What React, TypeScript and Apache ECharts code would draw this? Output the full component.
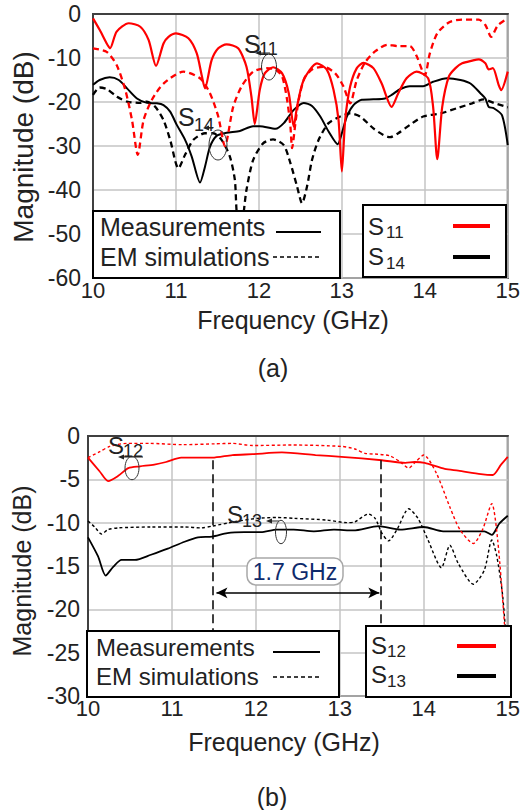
import React, { useEffect, useRef } from "react";
import * as echarts from "echarts";

// ---------- data (frequency GHz, magnitude dB) ----------
const s11Meas: number[][] = [
  [10.0, -1.0], [10.08, -3.6], [10.165, -6.7], [10.205, -7.8], [10.285, -4.0], [10.43, -2.1], [10.57, -2.9],
  [10.67, -5.9], [10.76, -11.8], [10.85, -6.7], [10.91, -5.2], [11.0, -4.4], [11.15, -5.5], [11.25, -8.9],
  [11.31, -13.9], [11.35, -16.9], [11.43, -10.5], [11.51, -7.8], [11.61, -6.9], [11.75, -7.8], [11.85, -12.0],
  [11.91, -18.8], [11.95, -25.0], [12.01, -17.3], [12.07, -13.5], [12.17, -12.1], [12.28, -13.5], [12.36, -18.0],
  [12.42, -25.6], [12.46, -21.0], [12.54, -15.0], [12.7, -11.2], [12.82, -12.7], [12.9, -17.3], [12.96, -24.1],
  [13.0, -35.8], [13.04, -24.1], [13.1, -16.5], [13.18, -12.3], [13.26, -11.1], [13.38, -12.3], [13.48, -15.8],
  [13.6, -21.1], [13.68, -18.0], [13.78, -14.6], [13.9, -13.1], [14.04, -14.6], [14.1, -21.1], [14.15, -33.0],
  [14.21, -21.1], [14.29, -14.2], [14.37, -12.3], [14.45, -11.2], [14.57, -10.6], [14.65, -10.3], [14.73, -11.2],
  [14.77, -12.6], [14.82, -12.3], [14.89, -16.1], [14.92, -17.3], [15.0, -13.1],
];
const s11Sim: number[][] = [
  [10.0, -7.8], [10.165, -8.6], [10.285, -11.6], [10.39, -17.3], [10.47, -24.1], [10.54, -32.0], [10.61, -24.1],
  [10.71, -19.5], [10.85, -15.8], [11.09, -13.1], [11.29, -14.6], [11.41, -18.0], [11.51, -23.3], [11.59, -30.0],
  [11.69, -21.1], [11.79, -16.5], [11.93, -13.1], [12.09, -12.3], [12.2, -12.6], [12.28, -14.2], [12.34, -19.5],
  [12.38, -25.6], [12.4, -30.5], [12.44, -24.8], [12.48, -19.5], [12.55, -14.5], [12.65, -12.5], [12.78, -12.0],
  [12.92, -13.5], [13.02, -16.5], [13.1, -20.3], [13.18, -15.0], [13.28, -11.0], [13.4, -8.5], [13.55, -7.0],
  [13.68, -7.3], [13.82, -7.3], [13.9, -9.5], [14.0, -13.9], [14.06, -9.0], [14.15, -4.4], [14.3, -1.8],
  [14.45, -1.3], [14.65, -1.3], [14.73, -2.5], [14.8, -5.2], [14.88, -2.6], [15.0, -1.0],
];
const s14Meas: number[][] = [
  [10.0, -16.1], [10.08, -15.0], [10.2, -14.4], [10.31, -15.0], [10.41, -16.9], [10.53, -19.2], [10.65, -20.2],
  [10.77, -20.3], [10.85, -20.7], [10.93, -22.2], [11.01, -25.2], [11.11, -28.6], [11.19, -32.4], [11.29, -38.3],
  [11.35, -34.7], [11.41, -30.2], [11.49, -27.7], [11.61, -27.0], [11.77, -26.6], [11.93, -25.5], [12.01, -25.5],
  [12.2, -26.1], [12.3, -24.8], [12.42, -21.8], [12.54, -20.2], [12.64, -20.9], [12.74, -23.3], [12.84, -26.7],
  [12.95, -29.6], [13.0, -27.1], [13.06, -23.3], [13.14, -20.7], [13.24, -19.5], [13.38, -19.4], [13.52, -19.2],
  [13.6, -18.4], [13.7, -17.1], [13.82, -16.4], [13.98, -16.4], [14.1, -15.4], [14.27, -14.6], [14.43, -15.0],
  [14.55, -15.8], [14.67, -18.0], [14.73, -19.2], [14.77, -21.1], [14.83, -21.4], [14.93, -23.0], [15.0, -29.8],
];
const s14Sim: number[][] = [
  [10.0, -18.4], [10.08, -16.7], [10.17, -17.1], [10.29, -18.8], [10.41, -19.9], [10.57, -20.2], [10.65, -19.9],
  [10.75, -21.1], [10.85, -24.1], [10.93, -28.6], [11.03, -35.1], [11.11, -32.0], [11.21, -28.6], [11.35, -27.1],
  [11.45, -27.1], [11.55, -28.6], [11.65, -32.4], [11.71, -37.7], [11.73, -44.5], [11.77, -52.0], [11.82, -44.5],
  [11.85, -40.0], [11.93, -33.2], [12.05, -29.4], [12.17, -28.5], [12.3, -29.8], [12.38, -33.9], [12.46, -39.2],
  [12.52, -43.0], [12.58, -39.2], [12.64, -33.2], [12.72, -28.6], [12.84, -24.8], [12.98, -23.3], [13.1, -22.6],
  [13.22, -23.3], [13.38, -26.0], [13.5, -27.5], [13.58, -28.0], [13.68, -27.1], [13.82, -25.2], [13.98, -23.3],
  [14.19, -22.6], [14.39, -21.4], [14.57, -20.3], [14.71, -19.4], [14.83, -20.2], [15.0, -21.2],
];

const s12Meas: number[][] = [
  [10.0, -2.5], [10.14, -4.1], [10.24, -5.2], [10.36, -4.6], [10.48, -3.7], [10.62, -3.5], [10.79, -3.3],
  [10.93, -3.0], [11.11, -2.5], [11.33, -2.5], [11.48, -2.5], [11.72, -2.2], [11.96, -2.1], [12.31, -1.9],
  [12.71, -2.2], [13.02, -2.4], [13.5, -2.8], [13.78, -3.1], [13.89, -3.0], [14.01, -3.1], [14.25, -3.8],
  [14.41, -4.0], [14.68, -4.4], [14.82, -4.5], [14.92, -3.3], [15.0, -2.4],
];
const s12Sim: number[][] = [
  [10.0, -2.5], [10.14, -1.8], [10.26, -1.2], [10.46, -0.85], [10.73, -0.85], [11.13, -1.0], [11.52, -0.9],
  [11.72, -0.85], [11.96, -1.1], [12.43, -1.04], [13.02, -1.2], [13.18, -1.5], [13.3, -2.0], [13.45, -2.1],
  [13.6, -2.3], [13.72, -3.0], [13.82, -3.7], [13.9, -3.0], [14.0, -2.2], [14.15, -4.3], [14.31, -8.2],
  [14.43, -10.8], [14.59, -12.4], [14.7, -10.8], [14.81, -7.8], [14.88, -12.0], [14.96, -21.6], [15.0, -28.0],
];
const s13Meas: number[][] = [
  [10.0, -11.7], [10.12, -13.9], [10.21, -16.1], [10.3, -15.1], [10.4, -14.3], [10.56, -14.3], [10.75, -13.7],
  [10.95, -13.0], [11.15, -12.2], [11.31, -11.7], [11.48, -11.6], [11.66, -11.2], [11.86, -11.1], [12.06, -11.1],
  [12.25, -10.8], [12.45, -10.8], [12.69, -11.0], [12.93, -10.8], [13.16, -10.9], [13.46, -10.4], [13.72, -10.8],
  [14.0, -10.5], [14.23, -11.0], [14.55, -11.0], [14.72, -11.0], [14.81, -11.4], [14.9, -10.1], [15.0, -9.2],
];
const s13Sim: number[][] = [
  [10.0, -9.8], [10.08, -10.5], [10.16, -11.3], [10.24, -10.8], [10.36, -10.6], [10.75, -10.5], [11.15, -10.5],
  [11.35, -10.6], [11.48, -10.4], [11.74, -9.9], [12.02, -9.5], [12.25, -9.4], [12.45, -9.5], [12.85, -9.7],
  [13.08, -10.0], [13.18, -9.9], [13.34, -9.0], [13.42, -9.5], [13.5, -11.2], [13.58, -12.1], [13.68, -10.8],
  [13.82, -8.4], [13.93, -9.5], [14.05, -12.0], [14.21, -15.2], [14.31, -12.6], [14.41, -14.7], [14.59, -17.1],
  [14.72, -15.5], [14.81, -12.0], [14.87, -13.9], [14.94, -18.5], [15.0, -26.0],
];

// band markers (GHz) and arrow level (dB) for panel (b)
const bandEdges = [11.48, 13.49];
const bandArrow = { from: 11.53, to: 13.47, level: -18.1 };

const FONT = "'Liberation Sans', Arial, Helvetica, sans-serif";
const TXT = "#222";

function txt(x: number, y: number, text: string, size: number, extra: any = {}) {
  return {
    type: "text",
    x,
    y,
    z: 110,
    rotation: extra.rotation || 0,
    style: {
      text,
      fontSize: size,
      fontFamily: FONT,
      fill: extra.fill || TXT,
      align: extra.align || "left",
      verticalAlign: "middle",
    },
  };
}
function ln(x1: number, y1: number, x2: number, y2: number, color: string, w: number, dash?: number[], z = 110) {
  return {
    type: "line",
    z,
    shape: { x1, y1, x2, y2 },
    style: { stroke: color, lineWidth: w, lineDash: dash || null },
  };
}
function box(x: number, y: number, w: number, h: number) {
  return {
    type: "rect",
    z: 100,
    shape: { x, y, width: w, height: h },
    style: { fill: "#fff", stroke: "#000", lineWidth: 2 },
  };
}
function ell(cx: number, cy: number, rx: number, ry: number) {
  return {
    type: "ellipse",
    z: 60,
    shape: { cx, cy, rx, ry },
    style: { fill: "none", stroke: "#333", lineWidth: 1 },
  };
}
function leftArrow(xTip: number, xEnd: number, y: number) {
  return [
    ln(xTip + 4, y, xEnd, y, "#222", 1, undefined, 60),
    {
      type: "polygon",
      z: 60,
      shape: { points: [[xTip, y], [xTip + 6, y - 2.5], [xTip + 6, y + 2.5]] },
      style: { fill: "#222" },
    },
  ];
}

function lineSeries(data: number[][], color: string, width: number, dash: any, idx: number, extra: any = {}) {
  return {
    type: "line",
    data,
    xAxisIndex: idx,
    yAxisIndex: idx,
    showSymbol: false,
    symbol: "none",
    smooth: 0.25,
    lineStyle: { color, width, type: dash },
    ...extra,
  };
}

export default function App() {
  const ref = useRef<HTMLDivElement>(null);
  useEffect(() => {
    if (!ref.current) return;
    const chart = echarts.init(ref.current, undefined, { renderer: "svg" });

    const axisLine = { show: true, lineStyle: { color: "#404040", width: 2 } };
    const splitLine = { show: true, lineStyle: { color: "#c4c4c4", width: 1.5 } };
    const xAxisBase = (gridIndex: number) => ({
      type: "value",
      gridIndex,
      min: 10,
      max: 15,
      interval: 1,
      axisLine,
      axisTick: { show: false },
      splitLine,
      axisLabel: { fontSize: 22, color: TXT, fontFamily: FONT, margin: 1 },
    });

    const graphic: any[] = [
      // axis titles and captions
      txt(23, 147, "Magnitude (dB)", 28, { rotation: Math.PI / 2, align: "center" }),
      txt(22, 571, "Magnitude (dB)", 25, { rotation: Math.PI / 2, align: "center" }),
      txt(293, 320, "Frequency (GHz)", 25, { align: "center" }),
      txt(284, 742, "Frequency (GHz)", 25, { align: "center" }),
      txt(273, 368, "(a)", 25, { align: "center" }),
      txt(272, 797, "(b)", 25, { align: "center" }),

      // panel (a) annotations
      txt(244, 44, "S", 25),
      txt(259, 49, "11", 18),
      ...leftArrow(255, 270, 53),
      ell(269, 67, 7.5, 13),
      txt(178, 117, "S", 25),
      txt(194, 125, "14", 18),
      ...leftArrow(203, 213, 128),
      ell(218, 145, 9, 15),

      // panel (a) legends
      box(93, 211, 247, 67),
      txt(100, 227, "Measurements", 25),
      txt(100, 257, "EM simulations", 25),
      ln(276, 232, 321, 232, "#000", 2),
      ln(273, 257, 321, 257, "#000", 1.5, [4, 3]),
      box(363, 205, 143, 72),
      txt(368, 226, "S", 24),
      txt(386, 232, "11", 17),
      txt(368, 256, "S", 24),
      txt(386, 263, "14", 17),
      ln(453, 226, 490, 226, "#ff0000", 4),
      ln(453, 257, 490, 257, "#000", 4),

      // panel (b) annotations
      txt(108, 445, "S", 24),
      txt(123, 451, "12", 18),
      ...leftArrow(118, 143, 457),
      ell(132, 468, 7, 11.7),
      txt(227, 514, "S", 24),
      txt(242, 521, "13", 18),
      ...leftArrow(266, 279, 521),
      ell(281, 532, 5.5, 11.7),
      {
        type: "rect",
        z: 70,
        shape: { x: 247, y: 558, width: 96, height: 27, r: 9 },
        style: { fill: "#fff", stroke: "#a8a8a8", lineWidth: 1.5 },
      },
      txt(295, 572, "1.7 GHz", 23, { align: "center", fill: "#0e2a6b" }),

      // panel (b) legends
      box(87, 631, 252, 66),
      txt(96, 647, "Measurements", 24),
      txt(96, 676, "EM simulations", 24),
      ln(273, 652, 320, 652, "#000", 1.8),
      ln(273, 677, 320, 677, "#000", 1.5, [4, 3]),
      box(366, 626, 145, 71),
      txt(371, 645, "S", 24),
      txt(387, 651, "12", 17),
      txt(371, 674, "S", 24),
      txt(387, 681, "13", 17),
      ln(457, 646, 496, 646, "#ff0000", 4),
      ln(457, 676, 496, 676, "#000", 4),
    ];

    chart.setOption({
      animation: false,
      backgroundColor: "#fff",
      grid: [
        { left: 93, top: 14, width: 415, height: 264, show: true, borderColor: "#404040", borderWidth: 2 },
        { left: 88, top: 436, width: 422, height: 260, show: true, borderColor: "#404040", borderWidth: 2 },
      ],
      xAxis: [xAxisBase(0), xAxisBase(1)],
      yAxis: [
        {
          type: "value", gridIndex: 0, min: -60, max: 0, interval: 10, axisLine, axisTick: { show: false }, splitLine,
          axisLabel: { fontSize: 23, color: TXT, fontFamily: FONT, margin: 12 },
        },
        {
          type: "value", gridIndex: 1, min: -30, max: 0, interval: 5, axisLine, axisTick: { show: false }, splitLine,
          axisLabel: { fontSize: 23, color: TXT, fontFamily: FONT, margin: 8 },
        },
      ],
      series: [
        lineSeries(s14Sim, "#000", 2.3, [6, 4], 0),
        lineSeries(s14Meas, "#000", 2, "solid", 0),
        lineSeries(s11Sim, "#ff0000", 2.3, [6, 4], 0),
        lineSeries(s11Meas, "#ff0000", 2.2, "solid", 0),
        lineSeries(s13Sim, "#000", 1.4, [3, 2.5], 1),
        lineSeries(s13Meas, "#000", 1.8, "solid", 1, {
          markLine: {
            silent: true,
            symbol: ["none", "none"],
            label: { show: false },
            lineStyle: { color: "#000", width: 1.5, type: [9, 5] },
            data: bandEdges.map((f) => [{ coord: [f, -2.8] }, { coord: [f, -23] }]),
          },
        }),
        lineSeries(s12Sim, "#ff0000", 1.4, [3, 2.5], 1),
        lineSeries(s12Meas, "#ff0000", 1.8, "solid", 1, {
          markLine: {
            silent: true,
            symbol: ["arrow", "arrow"],
            symbolSize: [8, 11],
            label: { show: false },
            lineStyle: { color: "#000", width: 1.6, type: "solid" },
            data: [[{ coord: [bandArrow.from, bandArrow.level] }, { coord: [bandArrow.to, bandArrow.level] }]],
          },
        }),
      ],
      graphic,
    });
    return () => chart.dispose();
  }, []);
  return <div ref={ref} style={{ position: "absolute", left: 0, top: 0, width: 523, height: 810 }} />;
}
